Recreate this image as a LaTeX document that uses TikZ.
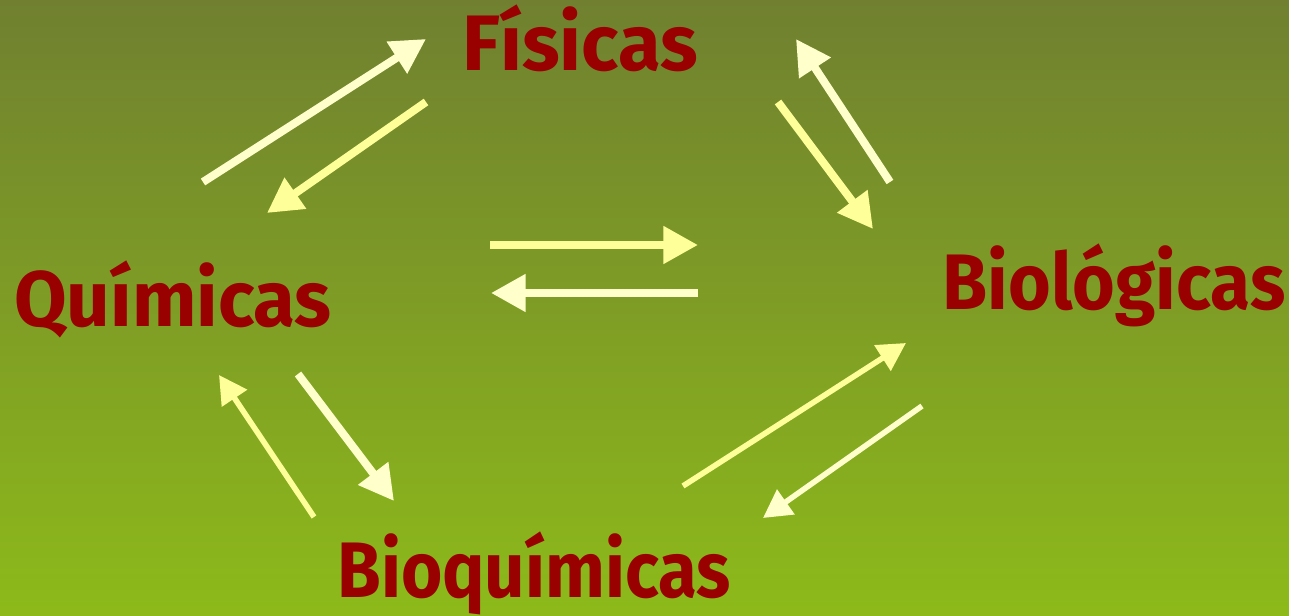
\documentclass[tikz,border=0pt]{standalone}
\usepackage{fontspec}
\setmainfont{Fira Sans}
\usetikzlibrary{arrows.meta}
\definecolor{bgtop}{RGB}{112,128,48}
\definecolor{bgbot}{RGB}{141,186,26}
\definecolor{cream}{RGB}{255,255,204}
\definecolor{lyellow}{RGB}{255,255,153}
\definecolor{wordred}{RGB}{153,0,0}
\tikzset{
  word/.style={anchor=base, inner sep=0pt, text=wordred, font=\fontsize{59}{59}\selectfont\bfseries},
  thick arrow/.style={line width=6pt, -{Triangle[length=26pt,width=27pt]}},
  thin arrow/.style={line width=4.2pt, -{Triangle[length=21pt,width=22pt]}},
}
\begin{document}
\begin{tikzpicture}[x=0.75pt,y=-0.75pt]
\shade[top color=bgtop, bottom color=bgbot] (0,0) rectangle (1289,616);
\useasboundingbox (0,0) rectangle (1289,616);
% words
\node[word] (fis) at (580,71) {\scalebox{0.99}[1]{Físicas}};
\node[word] (qui) at (173,327) {\scalebox{0.97}[1]{Químicas}};
\node[word] (bio) at (1114,310) {\scalebox{0.93}[1]{Biológicas}};
\node[word] (bq) at (534,597) {\scalebox{0.90}[1]{Bioquímicas}};
% arrow end points
\coordinate (a1s) at (203,182); \coordinate (a1e) at (426,39);
\coordinate (a2s) at (426,102); \coordinate (a2e) at (267,213);
\coordinate (a3s) at (778,102); \coordinate (a3e) at (873,229);
\coordinate (a4s) at (890,182); \coordinate (a4e) at (796,39);
\coordinate (a5s) at (490,245); \coordinate (a5e) at (698,245);
\coordinate (a6s) at (698,293); \coordinate (a6e) at (491,293);
\coordinate (a7s) at (683,486); \coordinate (a7e) at (906,343);
\coordinate (a8s) at (922,406); \coordinate (a8e) at (763,518);
\coordinate (a9s) at (314,517); \coordinate (a9e) at (219,375);
\coordinate (a10s) at (298,374); \coordinate (a10e) at (394,501);
% arrows
\draw[thick arrow, cream] (a1s) -- (a1e);
\draw[thick arrow, lyellow] (a2s) -- (a2e);
\draw[thick arrow, lyellow] (a3s) -- (a3e);
\draw[thick arrow, cream] (a4s) -- (a4e);
\draw[thick arrow, lyellow] (a5s) -- (a5e);
\draw[thick arrow, cream] (a6s) -- (a6e);
\draw[thin arrow, lyellow] (a7s) -- (a7e);
\draw[thin arrow, cream] (a8s) -- (a8e);
\draw[thin arrow, lyellow] (a9s) -- (a9e);
\draw[thick arrow, cream] (a10s) -- (a10e);
\end{tikzpicture}
\end{document}
